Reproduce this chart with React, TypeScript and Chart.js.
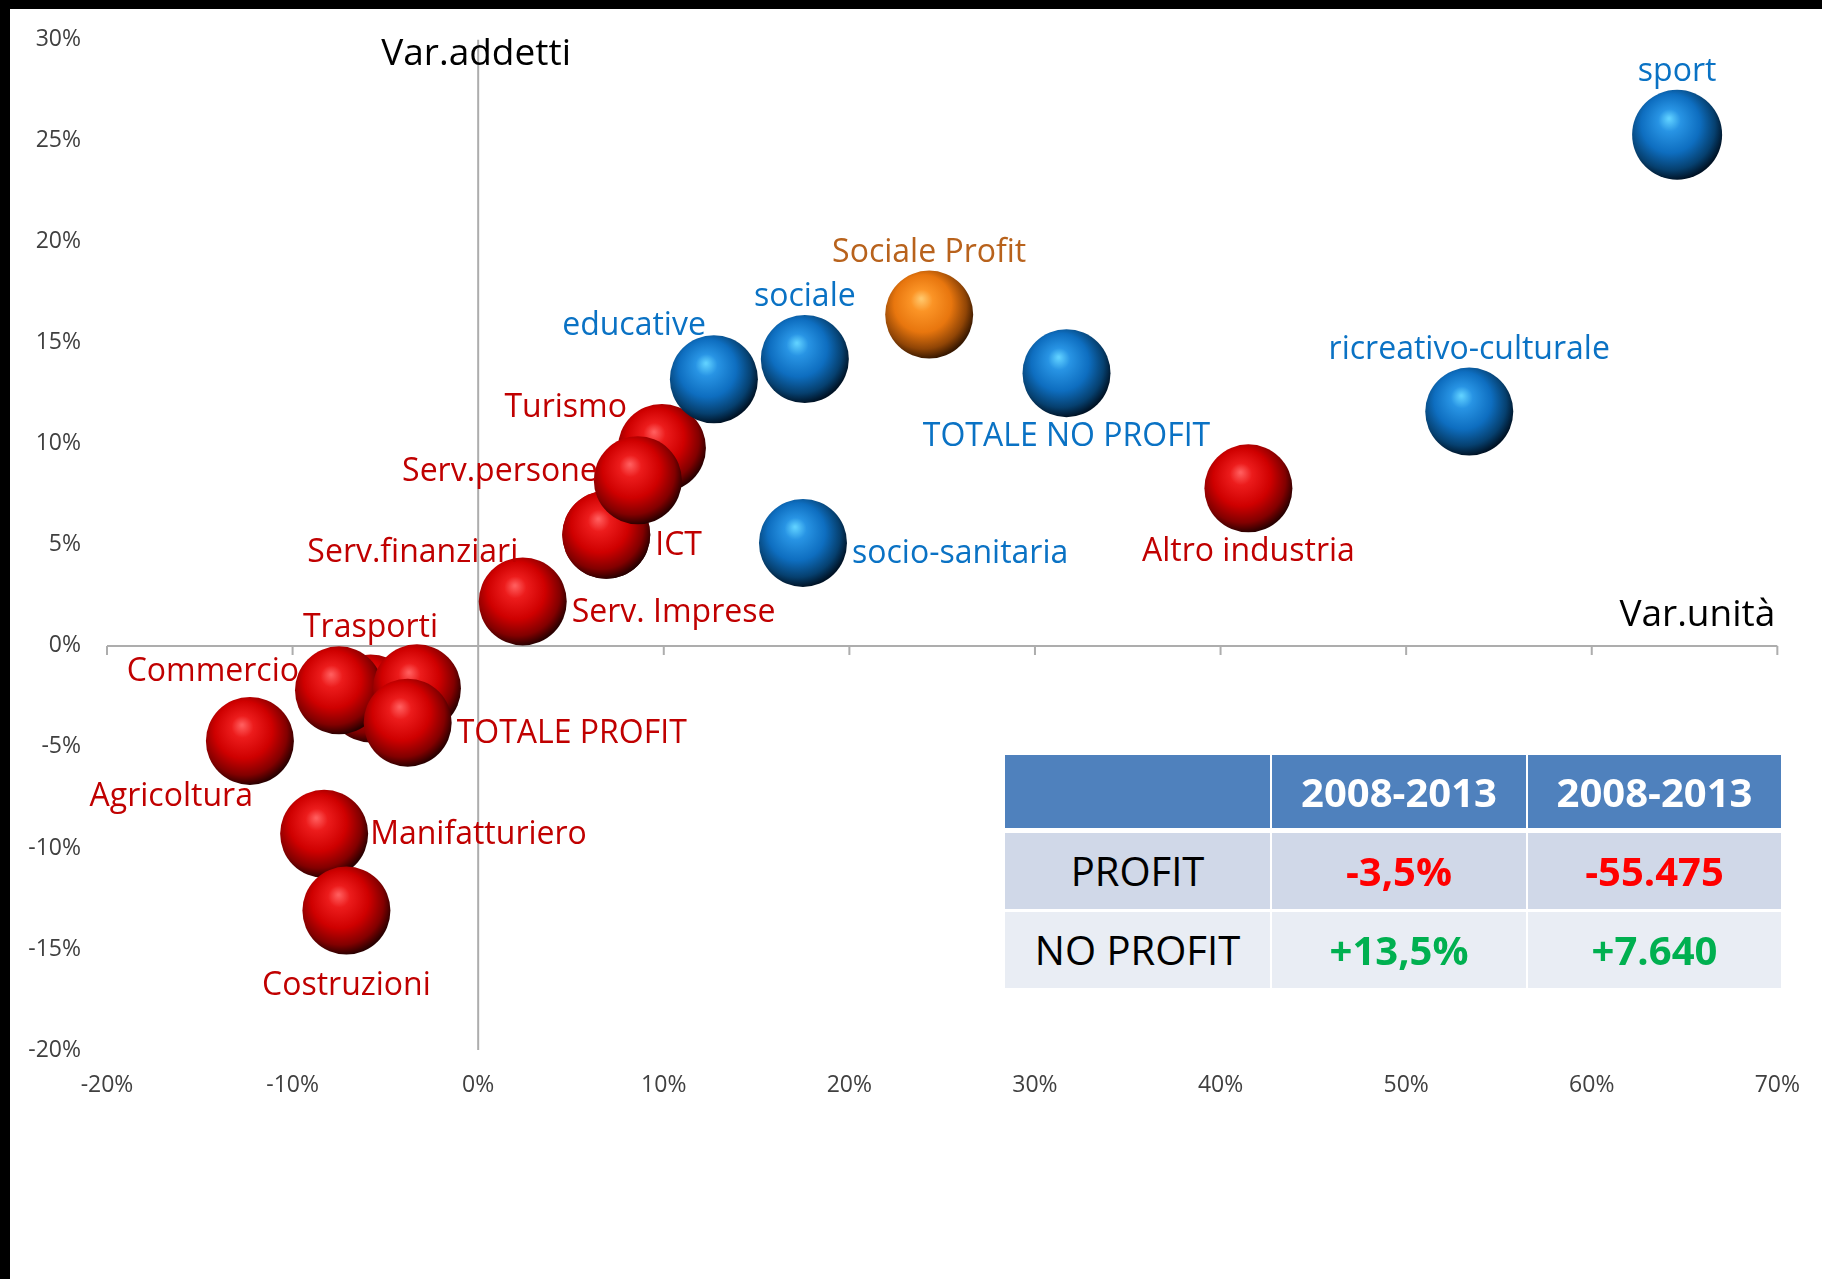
import React, { useEffect, useRef } from 'react';
import { Chart, registerables } from 'chart.js';

Chart.register(...registerables);

// ---- data ----
const sectorNames = [
  'Serv.finanziari', 'ICT', 'Turismo', 'Serv.persone', 'Serv. Imprese',
  'Trasporti', 'Commercio', '', 'TOTALE PROFIT', 'Agricoltura',
  'Manifatturiero', 'Costruzioni', 'Altro industria',
  'educative', 'sociale', 'socio-sanitaria', 'Sociale Profit',
  'TOTALE NO PROFIT', 'ricreativo-culturale', 'sport',
];
// Var. unità (x)
const varUnita = [
  0.069, 0.069, 0.099, 0.086, 0.024,
  -0.058, -0.075, -0.033, -0.038, -0.123,
  -0.083, -0.071, 0.415,
  0.127, 0.176, 0.175, 0.243,
  0.317, 0.534, 0.646,
];
// Var. addetti (y)
const varAddetti = [
  0.055, 0.055, 0.098, 0.082, 0.022,
  -0.026, -0.022, -0.021, -0.038, -0.047,
  -0.093, -0.131, 0.078,
  0.132, 0.142, 0.051, 0.164,
  0.135, 0.116, 0.253,
];
// 0 = profit (red), 1 = no profit (blue), 2 = sociale profit (orange)
const sectorGroup = [
  0, 0, 0, 0, 0,
  0, 0, 0, 0, 0,
  0, 0, 0,
  1, 1, 1, 2,
  1, 1, 1,
];
const bubbleSize = [
  44, 44, 44, 44, 44,
  44, 44, 44, 44, 44,
  44, 44, 44,
  44, 44, 44, 44,
  44, 44, 45,
];
const labelPlacement = [
  'farLeft', 'right', 'upLeft', 'left', 'right',
  'aboveFar', 'leftHigh', 'none', 'right', 'belowLeft',
  'rightMid', 'belowFar', 'below',
  'topLeft', 'above', 'right', 'above',
  'below', 'above', 'above',
];

const xTickMin = -0.2;
const xTickMax = 0.7;
const yTickMin = -0.2;
const yTickMax = 0.3;

const tableHeader = ['', '2008-2013', '2008-2013'];
const tableRows = [
  ['PROFIT', '-3,5%', '-55.475'],
  ['NO PROFIT', '+13,5%', '+7.640'],
];

// ---- styles ----
const palettes = [
  { hi: '#ff5c5c', light: '#ec1c1c', mid: '#cf0000', dark: '#820000', edge: '#2a0000' },
  { hi: '#5fd0ff', light: '#2894e4', mid: '#0e6ec0', dark: '#06406f', edge: '#001326' },
  { hi: '#ffc66a', light: '#fb9426', mid: '#e8760e', dark: '#904506', edge: '#381800' },
];
const labelColors = ['#c00000', '#0a72c4', '#b8621c'];
const FONT = "'Open Sans', 'DejaVu Sans', sans-serif";

function sphereFill(ctx: any) {
  const idx = ctx && typeof ctx.dataIndex === 'number' ? ctx.dataIndex : 0;
  const p = palettes[sectorGroup[idx] ?? 0];
  if (!ctx || ctx.type !== 'data') return p.mid;
  const chart = ctx.chart;
  const g2d = chart.ctx as CanvasRenderingContext2D;
  const xs = chart.scales && chart.scales.x;
  const ys = chart.scales && chart.scales.y;
  const raw = ctx.raw;
  if (!xs || !ys || !raw) return p.mid;
  const cx = xs.getPixelForValue(raw.x);
  const cy = ys.getPixelForValue(raw.y);
  const r = raw.r;
  if (![cx, cy, r].every((v) => Number.isFinite(v))) return p.mid;
  const g = g2d.createRadialGradient(cx - r * 0.18, cy - r * 0.36, r * 0.02, cx - r * 0.12, cy - r * 0.16, r * 1.17);
  g.addColorStop(0, p.hi);
  g.addColorStop(0.2, p.light);
  g.addColorStop(0.55, p.mid);
  g.addColorStop(0.83, p.dark);
  g.addColorStop(1, p.edge);
  return g;
}

const axesPlugin = {
  id: 'crossAxes',
  beforeDatasetsDraw(chart: any) {
    const { ctx, chartArea, scales } = chart;
    const x = scales.x;
    const y = scales.y;
    const x0 = x.getPixelForValue(0);
    const y0 = y.getPixelForValue(0);
    ctx.save();
    ctx.strokeStyle = '#adadad';
    ctx.lineWidth = 2;
    ctx.beginPath();
    ctx.moveTo(x0, chartArea.top);
    ctx.lineTo(x0, chartArea.bottom);
    ctx.moveTo(chartArea.left, y0);
    ctx.lineTo(chartArea.right, y0);
    x.ticks.forEach((t: any) => {
      const px = x.getPixelForValue(t.value);
      ctx.moveTo(px, y0);
      ctx.lineTo(px, y0 + 9);
    });
    ctx.stroke();
    // axis titles
    ctx.fillStyle = '#000000';
    ctx.font = `37px ${FONT}`;
    ctx.textBaseline = 'middle';
    ctx.textAlign = 'left';
    ctx.fillText('Var.addetti', x0 - 97, chartArea.top + 15);
    ctx.textAlign = 'right';
    ctx.fillText('Var.unità', chartArea.right - 2, y0 - 30);
    ctx.restore();
  },
};

const labelPlugin = {
  id: 'bubbleLabels',
  afterDatasetsDraw(chart: any) {
    const { ctx } = chart;
    const meta = chart.getDatasetMeta(0);
    ctx.save();
    ctx.font = `32px ${FONT}`;
    ctx.textBaseline = 'middle';
    meta.data.forEach((el: any, i: number) => {
      const name = sectorNames[i];
      const pos = labelPlacement[i];
      if (!name || pos === 'none') return;
      const r = bubbleSize[i];
      let tx = el.x;
      let ty = el.y;
      let align: CanvasTextAlign = 'center';
      switch (pos) {
        case 'above': ty = el.y - r - 18; break;
        case 'aboveFar': ty = el.y - r - 27; break;
        case 'below': ty = el.y + r + 20; break;
        case 'belowFar': ty = el.y + r + 31; break;
        case 'left': align = 'right'; tx = el.x - r + 4; ty = el.y - 8; break;
        case 'leftHigh': align = 'right'; tx = el.x - r + 4; ty = el.y - 18; break;
        case 'farLeft': align = 'right'; tx = el.x - r - 44; ty = el.y + 18; break;
        case 'right': align = 'left'; tx = el.x + r + 5; ty = el.y + 11; break;
        case 'rightMid': align = 'left'; tx = el.x + r + 2; ty = el.y + 1; break;
        case 'upLeft': align = 'right'; tx = el.x - 35; ty = el.y - 40; break;
        case 'topLeft': align = 'right'; tx = el.x - 8; ty = el.y - 53; break;
        case 'belowLeft': align = 'right'; tx = el.x + 3; ty = el.y + 56; break;
      }
      ctx.textAlign = align;
      ctx.fillStyle = labelColors[sectorGroup[i]];
      ctx.fillText(name, tx, ty);
    });
    ctx.restore();
  },
};

function pct(v: any) {
  return Math.round(Number(v) * 100) + '%';
}

export default function App() {
  const canvasRef = useRef<HTMLCanvasElement | null>(null);

  useEffect(() => {
    if (!canvasRef.current) return;
    const points = sectorNames.map((_, i) => ({ x: varUnita[i], y: varAddetti[i], r: bubbleSize[i] }));
    const chart = new Chart(canvasRef.current, {
      type: 'bubble',
      data: {
        datasets: [
          {
            label: 'settori',
            data: points,
            backgroundColor: sphereFill as any,
            borderWidth: 0,
            hoverBorderWidth: 0,
            clip: false as any,
          },
        ],
      },
      options: {
        animation: false,
        responsive: false,
        events: [],
        layout: { autoPadding: false, padding: { left: 0, right: 44, top: 36, bottom: 0 } },
        plugins: {
          legend: { display: false },
          tooltip: { enabled: false },
        },
        scales: {
          x: {
            type: 'linear',
            min: xTickMin,
            max: xTickMax,
            grid: { display: false, drawTicks: false },
            border: { display: false },
            ticks: {
              stepSize: 0.1,
              padding: 22,
              color: '#404040',
              font: { family: FONT, size: 23 },
              callback: pct,
              maxRotation: 0,
            },
            afterFit: (s: any) => { s.height = 229; },
          },
          y: {
            type: 'linear',
            min: yTickMin,
            max: yTickMax,
            grid: { display: false, drawTicks: false },
            border: { display: false },
            ticks: {
              stepSize: 0.05,
              padding: 26,
              color: '#404040',
              font: { family: FONT, size: 23 },
              callback: pct,
            },
            afterFit: (s: any) => { s.width = 107; },
          },
        },
      },
      plugins: [axesPlugin, labelPlugin],
    });
    return () => chart.destroy();
  }, []);

  const colW = [265, 254, 253];
  const rowH = [73, 76, 76];
  const rowTop = [755, 833, 912];
  const colLeft = [1005, 1272, 1528];
  const bg = ['#4f81bd', '#d0d8e8', '#e9edf4'];
  const valueColor = [
    ['#000000', '#ff0000', '#ff0000'],
    ['#000000', '#00b050', '#00b050'],
  ];

  const cells: React.ReactNode[] = [];
  const allRows = [tableHeader, ...tableRows];
  allRows.forEach((row, ri) => {
    row.forEach((txt, ci) => {
      cells.push(
        <div
          key={`${ri}-${ci}`}
          style={{
            position: 'absolute',
            left: colLeft[ci],
            top: rowTop[ri],
            width: colW[ci],
            height: rowH[ri],
            background: bg[ri],
            display: 'flex',
            alignItems: 'center',
            justifyContent: 'center',
            fontFamily: FONT,
            fontSize: 40,
            fontWeight: ri === 0 || ci > 0 ? 700 : 400,
            color: ri === 0 ? '#ffffff' : valueColor[ri - 1][ci],
            lineHeight: 1,
          }}
        >
          {txt}
        </div>
      );
    });
  });

  return (
    <div style={{ position: 'absolute', left: 0, top: 0, width: 1822, height: 1279, background: '#000000', overflow: 'hidden' }}>
      <div style={{ position: 'absolute', left: 10, top: 9, width: 1812, height: 1270, background: '#ffffff' }} />
      <canvas
        ref={canvasRef}
        width={1822}
        height={1279}
        style={{ position: 'absolute', left: 0, top: 0, width: 1822, height: 1279 }}
      />
      {cells}
    </div>
  );
}
